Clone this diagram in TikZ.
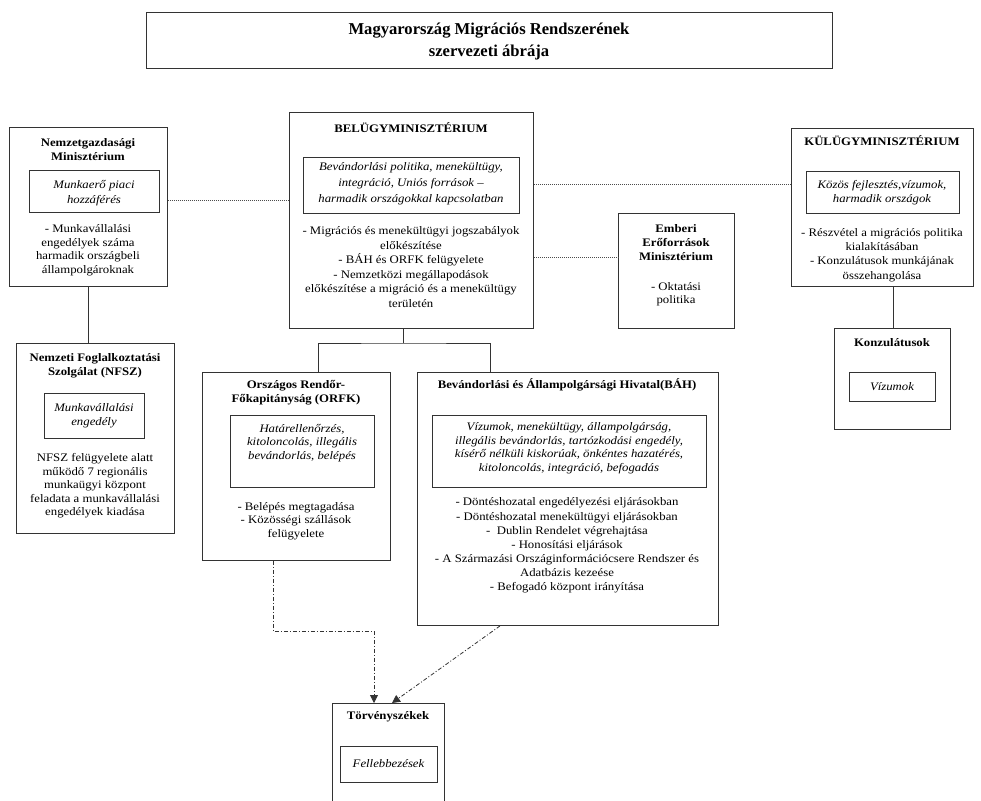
\documentclass[tikz,border=0pt]{standalone}
\usepackage{fontspec}
\setmainfont{Liberation Serif}[FakeStretch=1.11]
\newfontfamily\titlefont{Liberation Serif}
\usetikzlibrary{arrows.meta}
\tikzset{
  box/.style={draw=black!80, line width=0.9pt, rectangle, anchor=north west, inner sep=0pt},
  txt/.style={align=center, inner sep=0pt, font=\fontsize{11.5}{13.5}\selectfont},
  hdr/.style={txt, font=\fontsize{11.5}{14}\selectfont\bfseries},
  itx/.style={txt, font=\fontsize{11.5}{14.5}\selectfont\itshape},
  solidcon/.style={draw=black!80, line width=0.9pt},
  dotcon/.style={draw=black!70, line width=0.7pt, dash pattern=on 1pt off 1pt},
  dashdot/.style={draw=black!80, line width=0.8pt, dash pattern=on 4pt off 2pt on 1pt off 2pt, -{Triangle[width=8pt,length=8pt]}}
}
\newcommand{\bx}[5]{\node[box, minimum width=#4pt, minimum height=#5pt] (#1) at (#2,#3) {};}
\begin{document}
\begin{tikzpicture}[x=1pt,y=-1pt]
\useasboundingbox (0,0) rectangle (981,800);
\clip (0,0) rectangle (981,800);
\fill[white] (0,0) rectangle (981,800);
% title
\bx{title}{146}{12}{686}{56}
\node[txt, font=\titlefont\fontsize{16.6}{22}\selectfont\bfseries] (ttl) at (489,41) {Magyarország Migrációs Rendszerének\\szervezeti ábrája};
% Nemzetgazdasagi
\bx{ngm}{9}{127}{158}{159}
\bx{ngmi}{29}{170}{130}{42}
\node[hdr] (ngmh) at (88,150) {Nemzetgazdasági\\Minisztérium};
\node[itx] (ngmt) at (94,193) {Munkaerő piaci\\hozzáférés};
\node[txt] (ngmb) at (88,250) {- Munkavállalási\\engedélyek száma\\harmadik országbeli\\állampolgároknak};
% NFSZ
\bx{nfsz}{16}{343}{158}{190}
\bx{nfszi}{44}{393}{100}{45}
\node[hdr] (nfszh) at (95,366) {Nemzeti Foglalkoztatási\\Szolgálat (NFSZ)};
\node[itx] (nfszt) at (94,415.5) {Munkavállalási\\engedély};
\node[txt] (nfszb) at (95,486) {NFSZ felügyelete alatt\\működő 7 regionális\\munkaügyi központ\\feladata a munkavállalási\\engedélyek kiadása};
% Belugy
\bx{bm}{289}{112}{244}{216}
\bx{bmi}{303}{157}{216}{56}
\node[hdr] (bmh) at (411,128) {BELÜGYMINISZTÉRIUM};
\node[itx, font=\fontsize{11.5}{16}\selectfont\itshape] (bmt) at (411,184) {Bevándorlási politika, menekültügy,\\integráció, Uniós források --\\harmadik országokkal kapcsolatban};
\node[txt, font=\fontsize{11.5}{14.6}\selectfont] (bmb) at (411,267) {- Migrációs és menekültügyi jogszabályok\\előkészítése\\- BÁH és ORFK felügyelete\\- Nemzetközi megállapodások\\előkészítése a migráció és a menekültügy\\területén};
% Emberi
\bx{emm}{618}{213}{116}{115}
\node[hdr] (emmh) at (676,243) {Emberi\\Erőforrások\\Minisztérium};
\node[txt] (emmb) at (676,294) {- Oktatási\\politika};
% Kulugy
\bx{km}{791}{128}{182}{158}
\bx{kmi}{806}{171}{153}{42}
\node[hdr] (kmh) at (882,141) {KÜLÜGYMINISZTÉRIUM};
\node[itx] (kmt) at (882,192.5) {Közös fejlesztés,vízumok,\\harmadik országok};
\node[txt, font=\fontsize{11.5}{14.3}\selectfont] (kmb) at (882,255) {- Részvétel a migrációs politika\\kialakításában\\- Konzulátusok munkájának\\összehangolása};
% Konzulatusok
\bx{kon}{834}{328}{116}{101}
\bx{koni}{849}{372}{86}{29}
\node[hdr] (konh) at (892,343) {Konzulátusok};
\node[itx] (kont) at (892,386.5) {Vízumok};
% ORFK
\bx{orfk}{202}{372}{188}{188}
\bx{orfki}{230}{415}{144}{72}
\node[hdr] (orfkh) at (296,393) {Országos Rendőr-\\Főkapitányság (ORFK)};
\node[itx, font=\fontsize{11.5}{13.5}\selectfont\itshape] (orfkt) at (302,443) {Határellenőrzés,\\kitoloncolás, illegális\\bevándorlás, belépés};
\node[txt] (orfkb) at (296,521) {- Belépés megtagadása\\- Közösségi szállások\\felügyelete};
% BAH
\bx{bah}{417}{372}{301}{253}
\bx{bahi}{432}{415}{274}{72}
\node[hdr] (bahh) at (567,385) {Bevándorlási és Állampolgársági Hivatal(BÁH)};
\node[itx, font=\fontsize{11.5}{13.5}\selectfont\itshape] (baht) at (569,448) {Vízumok, menekültügy, állampolgárság,\\illegális bevándorlás, tartózkodási engedély,\\kísérő nélküli kiskorúak, önkéntes hazatérés,\\kitoloncolás, integráció, befogadás};
\node[txt, font=\fontsize{11.5}{14.1}\selectfont] (bahb) at (567,545.5) {- Döntéshozatal engedélyezési eljárásokban\\- Döntéshozatal menekültügyi eljárásokban\\-~~Dublin Rendelet végrehajtása\\- Honosítási eljárások\\- A Származási Országinformációcsere Rendszer és\\Adatbázis kezeése\\- Befogadó központ irányítása};
% Torvenyszekek
\bx{tsz}{332}{703}{112}{120}
\bx{tszi}{340}{746}{97}{36}
\node[hdr] (tszh) at (388,717) {Törvényszékek};
\node[itx] (tszt) at (388.5,764) {Fellebbezések};
% connectors
\draw[solidcon] (ngm.south -| 88,0) -- (nfsz.north -| 88,0);
\draw[solidcon] (km.south -| 893,0) -- (kon.north -| 893,0);
\coordinate (jn) at (403,343);
\draw[solidcon] (bm.south -| jn) -- (jn);
\draw[solidcon] (orfk.north -| 318,0) |- (jn) -| (bah.north -| 490,0);
\draw[dotcon] (ngm.east |- 0,200) -- (bm.west |- 0,200);
\draw[dotcon] (bm.east |- 0,184) -- (km.west |- 0,184);
\draw[dotcon] (bm.east |- 0,257) -- (emm.west |- 0,257);
\draw[dashdot] (orfk.south -| 273,0) |- (374,631) -- (tsz.north -| 374,0);
\draw[dashdot] (bah.south -| 500,0) -- (tsz.north -| 392,0);
\end{tikzpicture}
\end{document}
